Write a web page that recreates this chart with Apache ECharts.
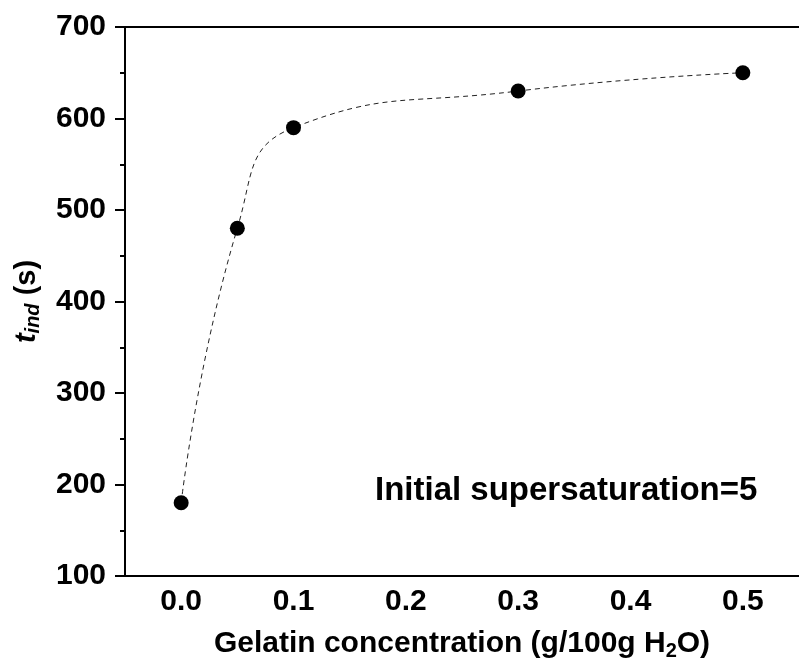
<!DOCTYPE html>
<html>
<head>
<meta charset="utf-8">
<script src="https://cdn.jsdelivr.net/npm/echarts@6/dist/echarts.min.js"></script>
<style>
  html, body { margin: 0; padding: 0; background: #fff; }
  #chart { width: 799px; height: 671px; }
</style>
</head>
<body>
<div id="chart"></div>
<script>
// gelatin concentration (g/100g H2O) vs induction time (s)
var concentration = [0.0, 0.05, 0.1, 0.3, 0.5]
var tInd = [180, 480, 590, 630, 650]
var xTicks = [0.0, 0.1, 0.2, 0.3, 0.4, 0.5]
var note = 'Initial supersaturation=5'

var font = 'Liberation Sans, Arial, sans-serif'
var chart = echarts.init(document.getElementById('chart'))

var points = concentration.map(function (c, i) { return [c, tInd[i]] })

chart.setOption({
  backgroundColor: '#fff',
  animation: false,
  grid: { left: 125, top: 27, right: 0, bottom: 95 },
  xAxis: [{
    type: 'value',
    min: -0.05,
    max: 0.55,
    splitLine: { show: false },
    axisLine: { onZero: false, lineStyle: { color: '#000', width: 2 } },
    axisTick: { show: false },
    axisLabel: {
      customValues: xTicks,
      formatter: function (v) { return v.toFixed(1) },
      color: '#000',
      fontFamily: font,
      fontWeight: 'bold',
      fontSize: 30,
      margin: 11
    },
    name: '{m|Gelatin concentration (g/100g H}{s|2}{m|O)}',
    nameLocation: 'middle',
    nameGap: 51,
    nameTextStyle: {
      rich: {
        m: { fontFamily: font, fontWeight: 'bold', fontSize: 30, color: '#000', lineHeight: 34 },
        s: { fontFamily: font, fontWeight: 'bold', fontSize: 20, color: '#000', lineHeight: 20, verticalAlign: 'bottom' }
      }
    }
  }, {
    type: 'value',
    position: 'top',
    min: -0.05,
    max: 0.55,
    splitLine: { show: false },
    axisLine: { show: true, onZero: false, lineStyle: { color: '#000', width: 2 } },
    axisTick: { show: false },
    axisLabel: { show: false }
  }],
  yAxis: {
    type: 'value',
    min: 100,
    max: 700,
    interval: 100,
    splitLine: { show: false },
    axisLine: { show: true, onZero: false, lineStyle: { color: '#000', width: 2 } },
    axisTick: { show: true, inside: false, length: 10, lineStyle: { color: '#000', width: 2 } },
    minorTick: { show: true, splitNumber: 2, length: 5, lineStyle: { color: '#000', width: 2 } },
    axisLabel: {
      color: '#000',
      fontFamily: font,
      fontWeight: 'bold',
      fontSize: 30,
      margin: 19
    },
    name: '{t|t}{s|ind}{m| (s)}',
    nameLocation: 'middle',
    nameGap: 82,
    nameTextStyle: {
      rich: {
        t: { fontFamily: font, fontWeight: 'bold', fontStyle: 'italic', fontSize: 29, color: '#000', lineHeight: 32 },
        s: { fontFamily: font, fontWeight: 'bold', fontStyle: 'italic', fontSize: 20, color: '#000', lineHeight: 20, verticalAlign: 'bottom' },
        m: { fontFamily: font, fontWeight: 'bold', fontSize: 29, color: '#000', lineHeight: 32 }
      }
    }
  },
  graphic: [{
    type: 'text',
    left: 375,
    top: 474,
    style: {
      text: note,
      fill: '#000',
      font: 'bold 33px ' + font
    }
  }],
  series: [{
    type: 'line',
    data: points,
    smooth: 0.5,
    symbol: 'circle',
    symbolSize: 15,
    itemStyle: { color: '#000' },
    lineStyle: { color: '#222', width: 1, type: [5, 4] },
    z: 3
  }]
})
</script>
</body>
</html>
